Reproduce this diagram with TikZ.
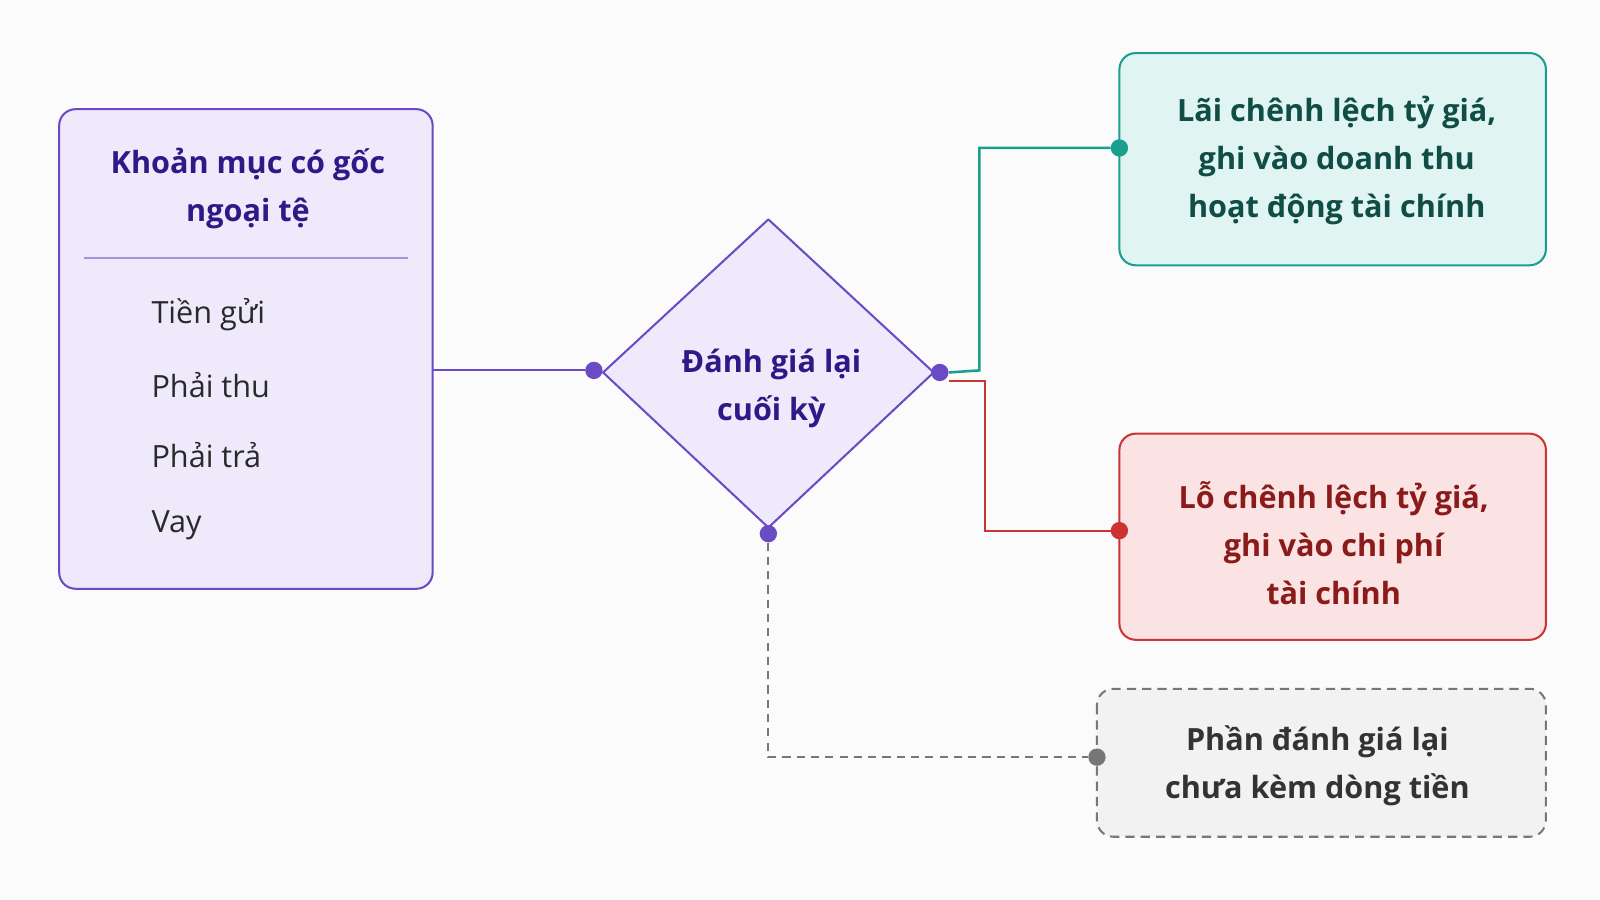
\documentclass[tikz,border=0pt]{standalone}
\usepackage{fontspec}
\setmainfont{Open Sans}
\usetikzlibrary{shapes.geometric}
\definecolor{pfill}{HTML}{EEE9FB}\definecolor{pline}{HTML}{6A4BC4}\definecolor{ptext}{HTML}{2E1A87}
\definecolor{gfill}{HTML}{E0F5F1}\definecolor{gline}{HTML}{1A9E8E}\definecolor{gtext}{HTML}{0F4D45}
\definecolor{rfill}{HTML}{FCE3E3}\definecolor{rline}{HTML}{CC3333}\definecolor{rtext}{HTML}{8B1A1A}
\definecolor{kfill}{HTML}{F2F2F2}\definecolor{kline}{HTML}{777777}\definecolor{ktext}{HTML}{333333}
\begin{document}
\begin{tikzpicture}[x=1pt,y=-1pt,
  box/.style={rounded corners=16pt,line width=2pt},
  dot/.style={circle,inner sep=0pt,minimum size=17pt},
  lbl/.style={font=\fontsize{30}{47}\selectfont\bfseries,align=center},
  item/.style={font=\fontsize{30}{36}\selectfont,text=ktext!80!black,anchor=west}]
\useasboundingbox[fill=white!97!gray] (0,0) rectangle (1568,882);
% left box
\draw[box,draw=pline,fill=pfill] (58,107) rectangle (424,577);
\node[lbl,text=ptext] (t1) at (243,185) {Khoản mục có gốc\\ngoại tệ};
\draw[pline!60,line width=2pt] (82,253) -- (400,253);
\node[item] (i1) at (145,308) {Tiền gửi};
\node[item] (i2) at (145,377) {Phải thu};
\node[item] (i3) at (145,446) {Phải trả};
\node[item] (i4) at (145,515) {Vay};
\coordinate (lr) at (424,363);
% diamond
\draw[line width=2pt,draw=pline,fill=pfill,line join=round] (591,365) -- (753,215) -- (915,365) -- (753,517) -- cycle;
\node[lbl,text=ptext] (dt) at (756,381) {Đánh giá lại\\cuối kỳ};
% boxes
\draw[box,draw=gline,fill=gfill] (1097,52) rectangle (1515,260);
\node[lbl,text=gtext] (gt) at (1310,157) {Lãi chênh lệch tỷ giá,\\ghi vào doanh thu\\hoạt động tài chính};
\draw[box,draw=rline,fill=rfill] (1097,425) rectangle (1515,627);
\node[lbl,text=rtext] (rt) at (1307,532) {Lỗ chênh lệch tỷ giá,\\ghi vào chi phí\\tài chính};
\draw[box,draw=kline,fill=kfill,dash pattern=on 9pt off 6pt] (1075,675) rectangle (1515,820);
\node[lbl,text=ktext] (kt) at (1291,750) {Phần đánh giá lại\\chưa kèm dòng tiền};
% dots
\node[dot,fill=pline] (dl) at (582,363) {};
\node[dot,fill=pline] (dr) at (921,365) {};
\node[dot,fill=pline] (db) at (753,523) {};
\node[dot,fill=gline] (dg) at (1097,145) {};
\node[dot,fill=rline] (drd) at (1097,520) {};
\node[dot,fill=kline] (dk) at (1075,742) {};
% connectors
\draw[pline,line width=2pt] (lr) -- (dl);
\draw[gline,line width=2.5pt] (dr.east) -- ++(30,-2) |- (dg);
\draw[rline,line width=2pt] (930,373) -- (965,373) |- (drd);
\draw[kline,line width=2pt,dash pattern=on 8pt off 6pt] (db) |- (dk);
\end{tikzpicture}
\end{document}
